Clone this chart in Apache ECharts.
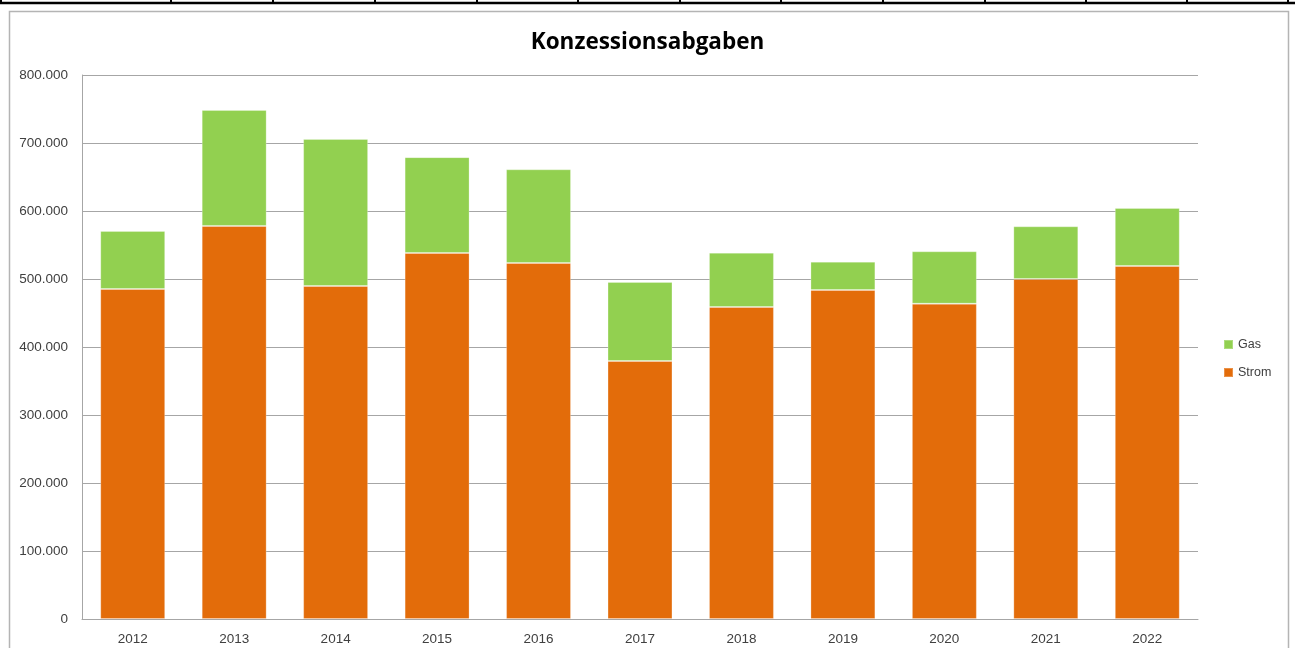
<!DOCTYPE html>
<html>
<head>
<meta charset="utf-8">
<script src="https://cdn.jsdelivr.net/npm/echarts@6/dist/echarts.min.js"></script>
<style>
html,body{margin:0;padding:0;background:#fff;}
#chart{width:1295px;height:648px;}
</style>
</head>
<body>
<div id="chart"></div>
<script>
var years = ['2012','2013','2014','2015','2016','2017','2018','2019','2020','2021','2022'];
var strom = [485300, 578000, 489700, 538200, 523500, 379400, 458800, 483800, 463700, 500000, 519100];
var gas = [85300, 170500, 216200, 141000, 137800, 116200, 79900, 41700, 77000, 77500, 85300];
var yTicks = [0, 100000, 200000, 300000, 400000, 500000, 600000, 700000, 800000];

var FONT = '"Liberation Sans", Arial, sans-serif';
function fmt(v){ return String(v).replace(/\B(?=(\d{3})+(?!\d))/g, '.'); }

var cellX = [1, 171, 273, 375, 477, 578, 680, 781, 883, 985, 1086, 1187, 1288];
var graphics = [
  {type:'rect', shape:{x:9.5, y:11.5, width:1279, height:700}, style:{fill:'none', stroke:'#b4b4b4', lineWidth:1.5}, silent:true, z:-1},
  {type:'line', shape:{x1:0, y1:3, x2:1295, y2:3}, style:{stroke:'#000', lineWidth:2.5}, silent:true}
];
cellX.forEach(function(x){
  graphics.push({type:'line', shape:{x1:x, y1:0, x2:x, y2:4}, style:{stroke:'#000', lineWidth:2}, silent:true});
});

var chart = echarts.init(document.getElementById('chart'), null, {renderer:'canvas'});
chart.setOption({
  animation:false,
  backgroundColor:'#fff',
  textStyle:{fontFamily:FONT},
  title:{
    text:'Konzessionsabgaben', left:'center', top:26,
    textStyle:{fontFamily:'"Open Sans", sans-serif', fontSize:22.5, fontWeight:'bold', color:'#000'}
  },
  graphic:graphics,
  legend:{
    orient:'vertical', left:1223, top:338, padding:0,
    itemWidth:9, itemHeight:9, itemGap:15,
    icon:'rect',
    data:['Gas','Strom'],
    textStyle:{fontFamily:FONT, fontSize:12.5, color:'#404040', padding:[0,0,0,0]}
  },
  grid:{left:82, right:97, top:75, bottom:29, containLabel:false},
  xAxis:{
    type:'category', data:years,
    axisLine:{show:true, lineStyle:{color:'#a6a6a6', width:1}},
    axisTick:{show:false},
    axisLabel:{color:'#404040', fontSize:13.5, fontFamily:FONT, margin:13}
  },
  yAxis:{
    type:'value', min:0, max:800000, interval:100000,
    axisLine:{show:true, lineStyle:{color:'#a6a6a6', width:1}},
    axisTick:{show:false},
    splitLine:{lineStyle:{color:'#a6a6a6', width:1}},
    axisLabel:{color:'#404040', fontSize:13.5, fontFamily:FONT, margin:14,
      formatter:function(v){ return fmt(v); }}
  },
  series:[
    {name:'Strom', type:'bar', stack:'t', data:strom, barCategoryGap:'36%',
      itemStyle:{color:'#E36C0A', borderColor:'rgba(255,255,255,0.25)', borderWidth:1}},
    {name:'Gas', type:'bar', stack:'t', data:gas, barCategoryGap:'36%',
      itemStyle:{color:'#92D050', borderColor:'rgba(255,255,255,0.25)', borderWidth:1}}
  ]
});
</script>
</body>
</html>
